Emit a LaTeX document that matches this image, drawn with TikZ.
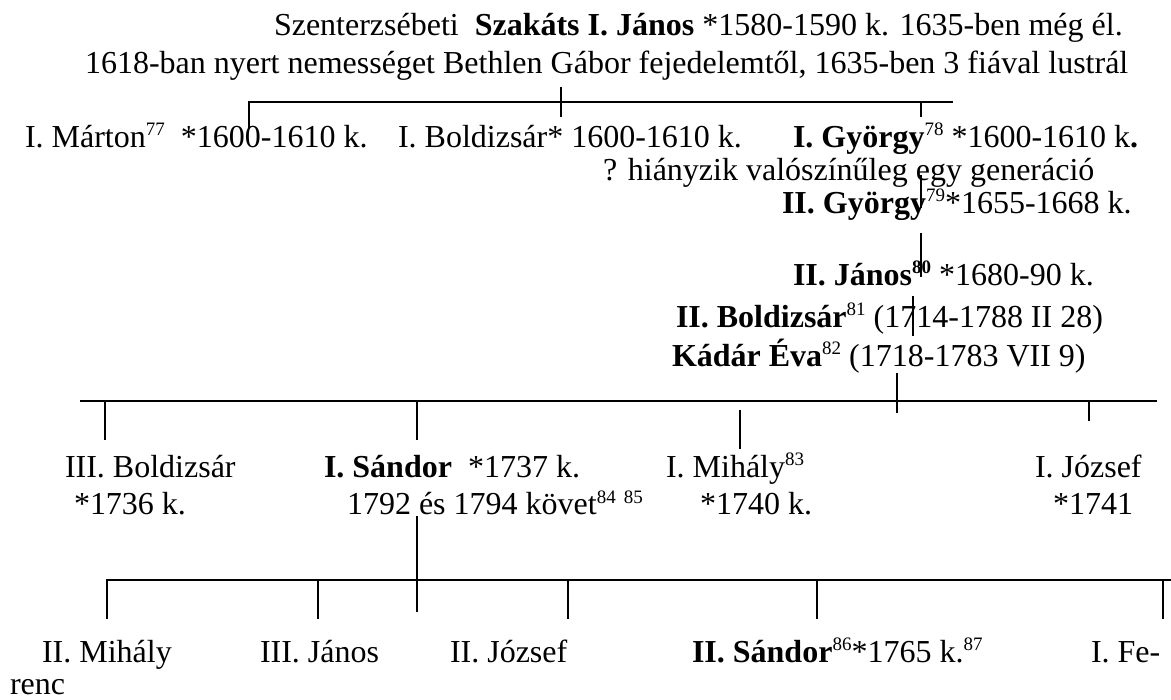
\documentclass[tikz,border=0pt]{standalone}
\usepackage{fontspec}
\setmainfont{Liberation Serif}
\newcommand\fnum[1]{\raisebox{12pt}{\fontsize{19}{19}\selectfont #1}}
\begin{document}
\begin{tikzpicture}[x=1pt,y=-1pt,
  txt/.style={inner sep=0pt,outer sep=0pt,anchor=base west,font=\fontsize{32}{38}\selectfont},
  ln/.style={line width=1.7pt,line cap=butt}]
\useasboundingbox (0,0) rectangle (1171,700);
% ---------- texts ----------
\node[txt] (rootA) at (274,36) {Szenterzsébeti\ \ \textbf{Szakáts I. János} *1580-1590 k. 1635-ben még él.};
\node[txt] (rootB) at (85,74) {1618-ban nyert nemességet Bethlen Gábor fejedelemtől, 1635-ben 3 fiával lustrál};
\node[txt] (marton) at (25,148) {I. Márton\fnum{77}\ \ *1600-1610 k.};
\node[txt] (boldI) at (398,148) {I. Boldizsár* 1600-1610 k.};
\node[txt] (gyI) at (793,148) {\textbf{I. György}\fnum{78} *1600-1610 k\textbf{.}};
\node[txt] (gap) at (603,181) {? hiányzik valószínűleg egy generáció};
\node[txt] (gyII) at (782,214) {\textbf{II. György}\fnum{79}*1655-1668 k.};
\node[txt] (janII) at (793,286) {\textbf{II. János}\fnum{\textbf{80}} *1680-90 k.};
\node[txt] (boldII) at (676,328) {\textbf{II. Boldizsár}\fnum{81} (1714-1788 II 28)};
\node[txt] (eva) at (672,367) {\textbf{Kádár Éva}\fnum{82} (1718-1783 VII 9)};
\node[txt] (boldIII) at (65,478) {III. Boldizsár};
\node[txt] (boldIIIb) at (74,515) {*1736 k.};
\node[txt] (sanI) at (324,478) {\textbf{I. Sándor}\ \ *1737 k.};
\node[txt] (sanIb) at (347,515) {1792 és 1794 követ\fnum{84}\ \fnum{85}};
\node[txt] (mihI) at (666,478) {I. Mihály\fnum{83}};
\node[txt] (mihIb) at (700,515) {*1740 k.};
\node[txt] (jozI) at (1035,478) {I. József};
\node[txt] (jozIb) at (1053,515) {*1741};
\node[txt] (mihII) at (42,662) {II. Mihály};
\node[txt] (janIII) at (260,662) {III. János};
\node[txt] (jozII) at (450,662) {II. József};
\node[txt] (sanII) at (692,662) {\textbf{II. Sándor}\fnum{86}*1765 k.\fnum{87}};
\node[txt] (fer) at (1091,662) {I. Fe-};
\node[txt] (ferb) at (10,694) {renc};
% ---------- connector points ----------
\coordinate (rootT) at (561,87);  \coordinate (rootD) at (561,117);
\coordinate (topL) at (249,102);  \coordinate (topR) at (953,102);
\coordinate (martonD) at (249,128);
\coordinate (gyIa) at (921,102); \coordinate (gyIb) at (921,117);
\coordinate (gapa) at (921,175); \coordinate (gapb) at (921,208);
\coordinate (gyIIa) at (921,233); \coordinate (gyIIb) at (921,277);
\coordinate (janIIa) at (913,296); \coordinate (janIIb) at (913,336);
\coordinate (parA) at (897,373); \coordinate (parB) at (897,413);
\coordinate (midL) at (80,401); \coordinate (midR) at (1157,401);
\coordinate (c1a) at (105,401); \coordinate (c1b) at (105,440);
\coordinate (c2a) at (417,401); \coordinate (c2b) at (417,440);
\coordinate (c3a) at (740,410); \coordinate (c3b) at (740,449);
\coordinate (c4a) at (1089,401); \coordinate (c4b) at (1089,421);
\coordinate (sanDa) at (417,516); \coordinate (sanDb) at (417,612);
\coordinate (lowL) at (107,580); \coordinate (lowR) at (1171,580);
\coordinate (d1) at (107,619);
\coordinate (d2a) at (318,580); \coordinate (d2b) at (318,619);
\coordinate (d3a) at (568,580); \coordinate (d3b) at (568,619);
\coordinate (d4a) at (817,580); \coordinate (d4b) at (817,619);
\coordinate (d5a) at (1163,580); \coordinate (d5b) at (1163,619);
% ---------- connectors ----------
\draw[ln] (rootT) -- (rootD);
\draw[ln] (martonD) -- (topL) -- (topR);
\draw[ln] (gyIa) -- (gyIb);
\draw[ln] (gapa) -- (gapb);
\draw[ln] (gyIIa) -- (gyIIb);
\draw[ln] (janIIa) -- (janIIb);
\draw[ln] (parA) -- (parB);
\draw[ln] (midL) -- (midR);
\draw[ln] (c1a) -- (c1b);
\draw[ln] (c2a) -- (c2b);
\draw[ln] (c3a) -- (c3b);
\draw[ln] (c4a) -- (c4b);
\draw[ln] (sanDa) -- (sanDb);
\draw[ln] (d1) -- (lowL) -- (lowR);
\draw[ln] (d2a) -- (d2b);
\draw[ln] (d3a) -- (d3b);
\draw[ln] (d4a) -- (d4b);
\draw[ln] (d5a) -- (d5b);
\end{tikzpicture}
\end{document}
